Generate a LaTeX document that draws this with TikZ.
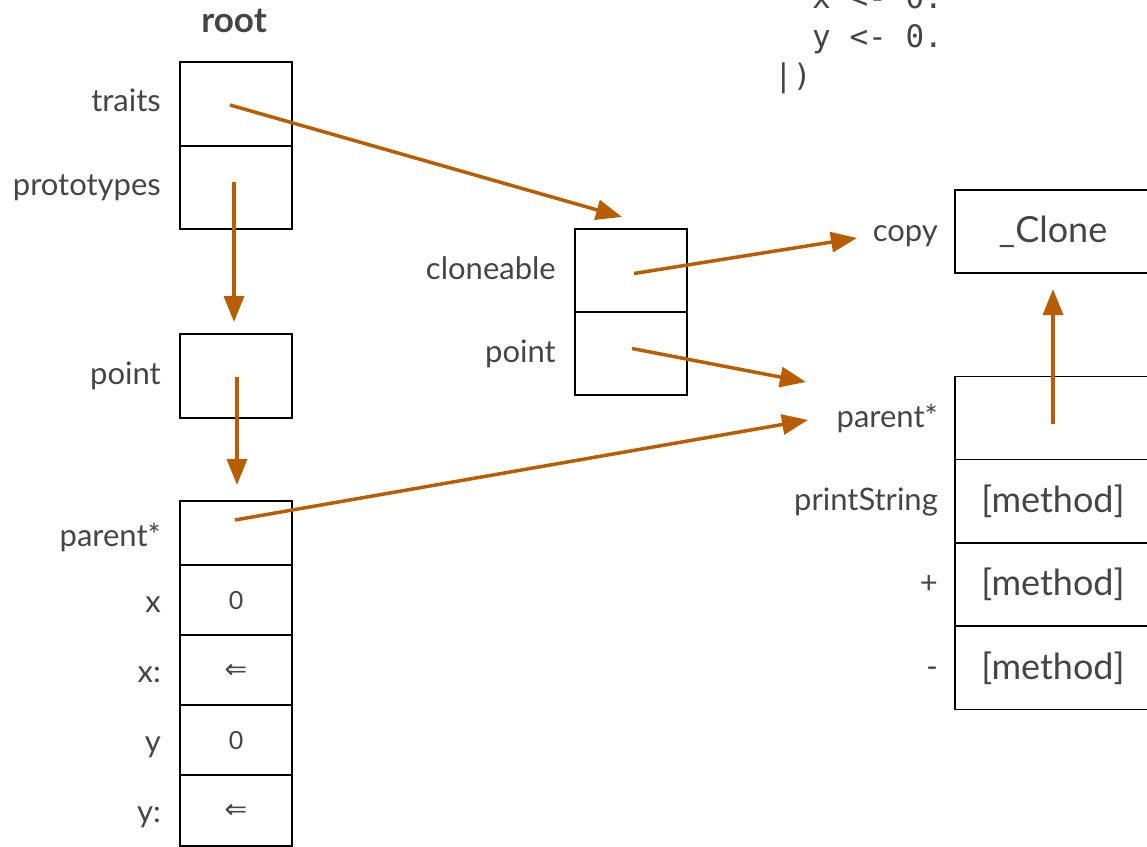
\documentclass[tikz,border=0pt]{standalone}
\usepackage{fontspec}
\setmainfont{Lato}
\newfontfamily\codefont{DejaVu Sans Mono}
\newfontfamily\symfont{DejaVu Sans}
\usetikzlibrary{arrows.meta}
\definecolor{ink}{HTML}{454545}
\definecolor{ptrcol}{RGB}{184,94,0}
\begin{document}
\begin{tikzpicture}[x=1pt,y=-1pt,
  slot/.style={draw=black,line width=1.7pt,minimum width=112pt,inner sep=0pt},
  wideslot/.style={slot,minimum width=196pt},
  lbl/.style={anchor=base east,inner sep=0pt,text=ink,font=\fontsize{31}{34}\selectfont},
  val/.style={text=ink,font=\fontsize{25}{28}\selectfont},
  arr/.style={text=ink,font=\symfont\fontsize{27}{30}\selectfont},
  big/.style={text=ink,font=\fontsize{36}{40}\selectfont},
  code/.style={anchor=base west,inner sep=0pt,text=ink,font=\codefont\fontsize{31}{36}\selectfont},
  pointer/.style={draw=ptrcol,line width=3.5pt,-{Triangle[length=26pt,width=20pt]}}]
\useasboundingbox (0,0) rectangle (1147,846);
\clip (0,0) rectangle (1147,846);

% source text, top right
\node[code] (c1) at (812,8) {x <- 0.};
\node[code] (c2) at (812,47) {y <- 0.};
\node[code] (c3) at (774,86) {|)};

% root object
\node[font=\bfseries\fontsize{35}{38}\selectfont,text=ink] (rootT) at (234,21) {root};
\node[slot,minimum height=84pt] (traits) at (236,104) {};
\node[slot,minimum height=83pt] (protos) at (236,187.5) {};
\node[lbl] (traitsL) at (161,111) {traits};
\node[lbl] (protosL) at (161,195) {prototypes};

% prototypes object
\node[slot,minimum height=84pt] (pt) at (236,376) {};
\node[lbl] (ptL) at (161,384) {point};

% point prototype
\node[slot,minimum height=64pt] (par) at (236,533) {};
\node[slot,minimum height=70pt] (xs) at (236,600) {};
\node[slot,minimum height=70pt] (xa) at (236,670) {};
\node[slot,minimum height=70pt] (ys) at (236,740) {};
\node[slot,minimum height=71pt] (ya) at (236,810.5) {};
\node[val] (xv) at (236,601) {0};
\node[arr] (xav) at (236,671) {⇐};
\node[val] (yv) at (236,741) {0};
\node[arr] (yav) at (236,811) {⇐};
\node[lbl] (parL) at (161,546) {parent*};
\node[lbl] (xL) at (161,612) {x};
\node[lbl] (xaL) at (161,682) {x:};
\node[lbl] (yL) at (161,752) {y};
\node[lbl] (yaL) at (161,822) {y:};

% traits object
\node[slot,minimum height=83pt] (clo) at (631,270.5) {};
\node[slot,minimum height=83pt] (tpt) at (631,353.5) {};
\node[lbl] (cloL) at (556,279) {cloneable};
\node[lbl] (tptL) at (556,362) {point};

% traits clonable
\node[wideslot,minimum height=83pt,big] (clone) at (1053,231.5) {\_Clone};
\node[lbl] (copyL) at (938,241) {copy};

% traits point
\node[wideslot,minimum height=83pt] (mpar) at (1053,418) {};
\node[wideslot,minimum height=83pt,big] (mps) at (1053,501) {[method]};
\node[wideslot,minimum height=83pt,big] (mplus) at (1053,584.5) {[method]};
\node[wideslot,minimum height=83pt,big] (mminus) at (1053,668) {[method]};
\node[lbl] (mparL) at (938,427) {parent*};
\node[lbl] (mpsL) at (938,510) {printString};
\node[lbl] (mplusL) at (938,593) {+};
\node[lbl] (mminusL) at (938,677) {-};

% arrow heads
\coordinate (h1) at (622,217);
\coordinate (h2) at (234,322);
\coordinate (h3) at (237,485);
\coordinate (h4) at (808,420);
\coordinate (h5) at (857,238);
\coordinate (h6) at (806,382);
\coordinate (h7) at (1053,289);

% slot references
\draw[pointer] ([shift={(-6,1)}]traits.center) -- (h1);
\draw[pointer] ([shift={(-2,-6)}]protos.center) -- (h2);
\draw[pointer] ([shift={(1,1)}]pt.center) -- (h3);
\draw[pointer] ([shift={(-1,-13)}]par.center) -- (h4);
\draw[pointer] ([shift={(3,3)}]clo.center) -- (h5);
\draw[pointer] ([shift={(1,-5)}]tpt.center) -- (h6);
\draw[pointer] ([shift={(0,6)}]mpar.center) -- (h7);
\end{tikzpicture}
\end{document}
